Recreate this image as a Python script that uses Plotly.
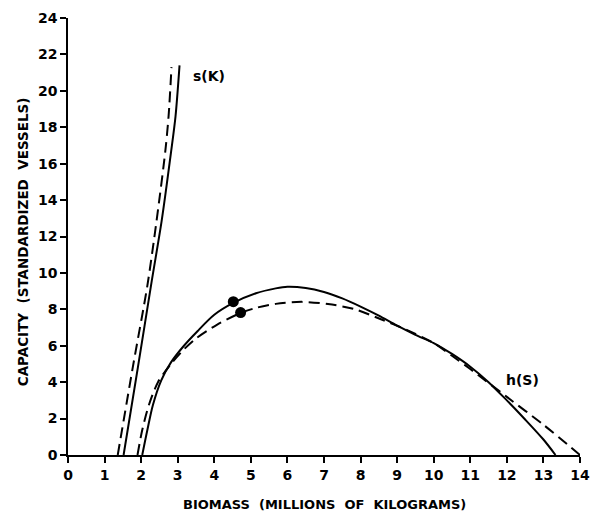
import plotly.graph_objects as go

# s(K) curves (capacity vs biomass)
sK_solid_x = [1.52, 1.91, 2.29, 2.56, 2.82, 2.94, 3.05]
sK_solid_y = [0.0, 4.8, 9.56, 12.84, 16.67, 18.6, 21.4]
sK_dash_x = [1.36, 1.77, 2.17, 2.42, 2.66, 2.75, 2.83]
sK_dash_y = [0.0, 4.8, 9.3, 12.84, 16.67, 18.6, 21.3]

# h(S) curves
hS_solid_x = [2.03, 2.17, 2.32, 2.55, 2.82, 3.17, 3.54, 4.0, 4.52, 5.14, 5.68, 6.0, 6.5, 7.0,
              7.5, 8.0, 8.5, 9.0, 9.5, 10.0, 10.5, 11.0, 11.5, 12.0, 12.5, 13.0, 13.33]
hS_solid_y = [0.0, 1.37, 2.73, 4.1, 5.1, 6.0, 6.8, 7.7, 8.35, 8.88, 9.15, 9.24, 9.17, 8.95,
              8.6, 8.15, 7.65, 7.1, 6.6, 6.15, 5.55, 4.85, 4.0, 3.0, 1.95, 0.85, 0.0]
hS_dash_x = [1.90, 2.03, 2.21, 2.46, 2.82, 3.17, 3.5, 4.07, 4.72, 5.14, 5.68, 6.39, 7.11, 7.82,
             8.54, 9.26, 10.0, 10.5, 11.0, 12.0, 13.0, 14.0]
hS_dash_y = [0.0, 1.37, 2.73, 4.0, 5.01, 5.8, 6.4, 7.15, 7.8, 8.08, 8.3, 8.41, 8.29, 8.02,
             7.47, 6.87, 6.15, 5.45, 4.72, 3.19, 1.66, 0.0]

# equilibrium points
dot_x = [4.52, 4.72]
dot_y = [8.42, 7.82]

x_ticks = list(range(0, 15))
y_ticks = list(range(0, 25, 2))

FONT = "DejaVu Sans"

fig = go.Figure()
line_solid = dict(color="black", width=2, shape="spline", smoothing=0.8)
line_dash = dict(color="black", width=2, dash="11px,6px", shape="spline", smoothing=0.8)

fig.add_trace(go.Scatter(x=sK_solid_x, y=sK_solid_y, mode="lines", line=line_solid))
fig.add_trace(go.Scatter(x=sK_dash_x, y=sK_dash_y, mode="lines", line=line_dash))
fig.add_trace(go.Scatter(x=hS_solid_x, y=hS_solid_y, mode="lines", line=line_solid))
fig.add_trace(go.Scatter(x=hS_dash_x, y=hS_dash_y, mode="lines", line=line_dash))
fig.add_trace(go.Scatter(x=dot_x, y=dot_y, mode="markers",
                         marker=dict(color="black", size=11)))

axis_common = dict(showline=True, linecolor="black", linewidth=1.6, ticks="outside",
                   ticklen=6, tickwidth=1.6, tickcolor="black", showgrid=False,
                   zeroline=False, tickfont=dict(family=FONT, size=14, color="black", weight="bold"))

fig.update_xaxes(range=[0, 14], tickvals=x_ticks, ticktext=[str(v) for v in x_ticks],
                 **axis_common)
fig.update_yaxes(range=[0, 24], tickvals=y_ticks, ticktext=[str(v) for v in y_ticks],
                 **axis_common)

fig.add_annotation(x=3.86, y=20.8, text="s(K)", showarrow=False,
                   xanchor="center", yanchor="middle",
                   font=dict(family=FONT, size=14, color="black", weight="bold"))
fig.add_annotation(x=12.44, y=4.1, text="h(S)", showarrow=False,
                   xanchor="center", yanchor="middle",
                   font=dict(family=FONT, size=14, color="black", weight="bold"))
fig.add_annotation(xref="paper", yref="paper", x=0.5, y=-0.1136,
                   xanchor="center", yanchor="middle",
                   text="BIOMASS  (MILLIONS  OF  KILOGRAMS)", showarrow=False,
                   font=dict(family=FONT, size=13, color="black", weight="bold"))
fig.add_annotation(xref="paper", yref="paper", x=-0.088, y=0.489, textangle=-90,
                   xanchor="center", yanchor="middle",
                   text="CAPACITY  (STANDARDIZED  VESSELS)", showarrow=False,
                   font=dict(family=FONT, size=13.5, color="black", weight="bold"))

fig.update_layout(width=600, height=524, showlegend=False,
                  margin=dict(l=68, r=10, t=15, b=69),
                  paper_bgcolor="white", plot_bgcolor="white")

fig.write_html("out.html",
               post_script="document.body.style.margin='0';"
                           "document.documentElement.style.overflow='hidden';")
